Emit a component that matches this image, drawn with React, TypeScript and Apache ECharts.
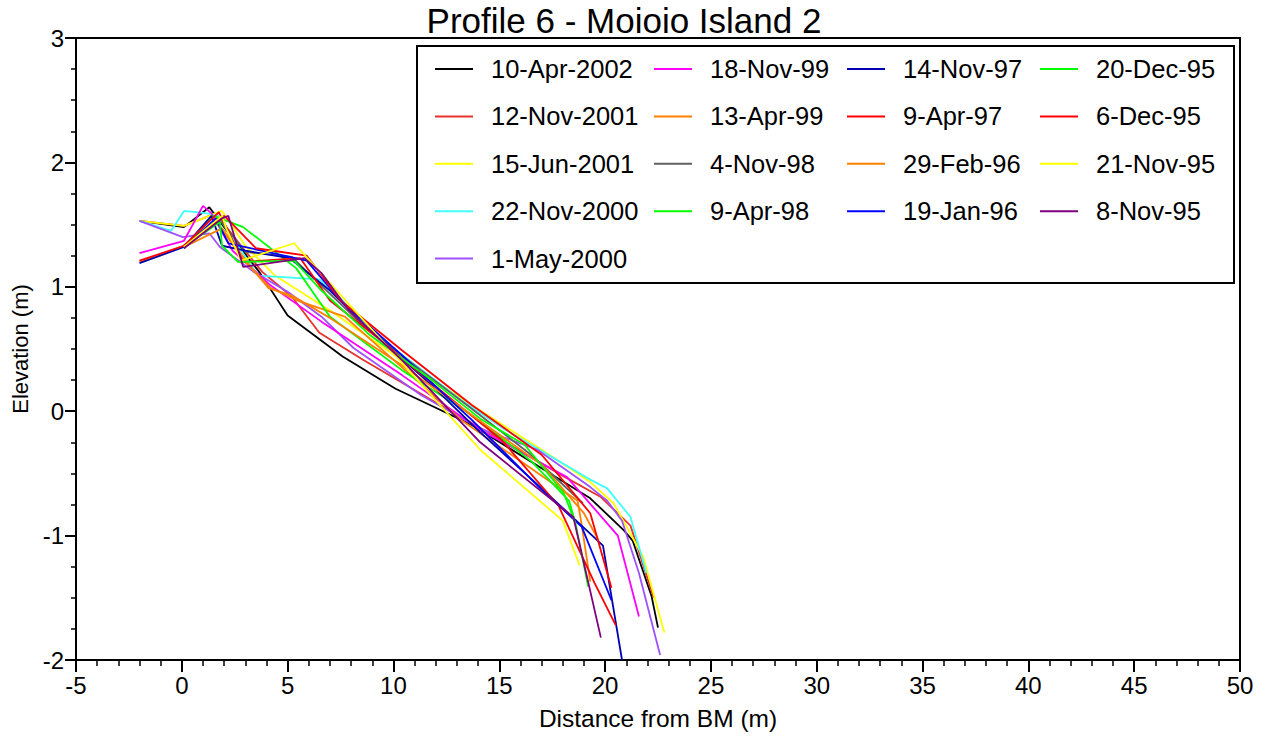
import React, { useEffect, useRef } from "react";
import * as echarts from "echarts";

const TITLE = "Profile 6 - Moioio Island 2";
const X_NAME = "Distance from BM (m)";
const Y_NAME = "Elevation (m)";
const FONT = '"Liberation Sans", Arial, sans-serif';

const seriesNames = [
  "10-Apr-2002", "12-Nov-2001", "15-Jun-2001", "22-Nov-2000", "1-May-2000",
  "18-Nov-99", "13-Apr-99", "4-Nov-98", "9-Apr-98",
  "14-Nov-97", "9-Apr-97", "29-Feb-96", "19-Jan-96",
  "20-Dec-95", "6-Dec-95", "21-Nov-95", "8-Nov-95",
];

const seriesColors = [
  "#000000", "#E8322C", "#FFFF00", "#40FFFF", "#A050FF",
  "#FF00FF", "#FF8000", "#606060", "#00FF00",
  "#0000B0", "#FF0000", "#FF8000", "#0000FF",
  "#00FF00", "#FF0000", "#FFFF00", "#800080",
];

const legendCol1 = ["10-Apr-2002", "12-Nov-2001", "15-Jun-2001", "22-Nov-2000", "1-May-2000"];
const legendCol2 = ["18-Nov-99", "13-Apr-99", "4-Nov-98", "9-Apr-98"];
const legendCol3 = ["14-Nov-97", "9-Apr-97", "29-Feb-96", "19-Jan-96"];
const legendCol4 = ["20-Dec-95", "6-Dec-95", "21-Nov-95", "8-Nov-95"];

type P = [number, number];

const apr2002: P[] = [[-2, 1.53], [0.1, 1.48], [1.3, 1.64], [2.0, 1.48], [3.7, 1.11], [5.0, 0.77], [7.6, 0.44], [10.1, 0.18], [11.6, 0.06], [13.7, -0.11], [17.4, -0.5], [19.3, -0.7], [20.9, -0.96], [21.3, -1.04], [22.2, -1.49], [22.5, -1.74]];
const nov2001: P[] = [[-2, 1.53], [0.1, 1.49], [1.6, 1.59], [2.8, 1.33], [3.8, 1.12], [5.2, 0.92], [6.5, 0.63], [8.6, 0.41], [11.8, 0.09], [15.1, -0.23], [17.9, -0.51], [19.8, -0.69], [21.2, -0.92], [22.3, -1.5]];
const jun2001: P[] = [[-2, 1.53], [0.1, 1.49], [1.9, 1.61], [3.0, 1.33], [4.4, 1.09], [7.0, 0.81], [10.4, 0.41], [13.7, 0.05], [17.0, -0.31], [19.3, -0.57], [20.4, -0.74], [21.8, -1.17], [22.8, -1.78]];
const nov2000: P[] = [[-2, 1.53], [-0.5, 1.45], [0.1, 1.61], [1.2, 1.59], [1.7, 1.57], [3.6, 1.09], [6.5, 1.06], [7.2, 0.96], [8.9, 0.65], [13.2, 0.09], [15.1, -0.13], [19.3, -0.55], [20.1, -0.62], [21.2, -0.85], [21.95, -1.3]];
const may2000: P[] = [[-2, 1.53], [0.05, 1.4], [1.3, 1.43], [1.8, 1.32], [3.4, 1.12], [5.0, 0.96], [6.6, 0.76], [8.1, 0.51], [11.3, 0.13], [14.1, -0.14], [16.8, -0.31], [19.3, -0.61], [20.1, -0.72], [20.8, -0.88], [21.6, -1.3], [22.6, -1.96]];
const nov99: P[] = [[-2, 1.27], [0.1, 1.37], [1.0, 1.65], [1.4, 1.59], [2.4, 1.29], [4.2, 1.01], [6.6, 0.72], [10.4, 0.29], [14.1, -0.15], [18.2, -0.53], [20.6, -1.0], [21.6, -1.65]];
const apr99: P[] = [[-2, 1.2], [0.1, 1.33], [1.6, 1.53], [3.0, 1.2], [4.2, 0.99], [5.6, 0.88], [7.7, 0.76], [13.2, -0.07], [18.7, -0.72], [18.9, -0.92], [19.3, -1.37]];
const nov98: P[] = [[0.1, 1.33], [1.75, 1.55], [3.0, 1.28], [5.2, 1.24], [6.1, 1.09], [8.5, 0.7], [11.3, 0.33], [13.7, 0.02], [16.5, -0.35], [18.95, -0.74]];
const apr98: P[] = [[0.1, 1.31], [1.5, 1.57], [2.9, 1.48], [5.4, 1.15], [7.0, 0.76], [10.4, 0.33], [13.7, -0.03], [16.5, -0.4], [18.3, -0.72], [18.6, -0.9]];
const nov97: P[] = [[-2, 1.19], [0.1, 1.32], [1.4, 1.57], [1.9, 1.33], [3.0, 1.29], [5.1, 1.23], [7.0, 0.97], [8.9, 0.65], [11.8, 0.21], [14.1, -0.17], [17.0, -0.62], [19.9, -1.08], [20.8, -2.0]];
const apr97: P[] = [[-2, 1.21], [0.1, 1.33], [1.75, 1.6], [2.9, 1.2], [5.6, 1.23], [7.0, 0.89], [9.4, 0.57], [12.2, 0.17], [15.1, -0.23], [17.8, -0.76], [19.5, -1.38], [20.5, -1.72]];
const feb96: P[] = [[0.1, 1.32], [1.9, 1.47], [3.3, 1.15], [4.1, 0.99], [5.2, 0.93], [7.0, 0.75], [10.4, 0.37], [13.7, -0.03], [17.0, -0.43], [19.0, -0.82], [19.7, -1.04]];
const jan96: P[] = [[0.1, 1.31], [1.6, 1.55], [2.2, 1.35], [5.9, 1.21], [7.5, 0.89], [10.4, 0.45], [13.7, -0.07], [17.0, -0.63], [18.9, -0.93], [20.3, -1.52]];
const dec95a: P[] = [[0.1, 1.32], [1.8, 1.52], [1.9, 1.33], [2.65, 1.2], [5.3, 1.21], [6.6, 0.97], [8.9, 0.61], [11.8, 0.25], [14.1, -0.06], [16.2, -0.27], [18.05, -0.66], [18.6, -0.9], [19.2, -1.41]];
const dec95b: P[] = [[0.1, 1.32], [2.0, 1.57], [2.3, 1.52], [3.5, 1.31], [5.9, 1.25], [7.5, 0.89], [10.4, 0.49], [13.7, 0.05], [17.0, -0.35], [19.3, -0.82], [20.3, -1.42]];
const nov95a: P[] = [[0.1, 1.32], [1.9, 1.57], [2.1, 1.47], [2.8, 1.21], [5.3, 1.35], [8.0, 0.84], [11.3, 0.22], [14.1, -0.31], [18.0, -0.88], [18.8, -1.24]];
const nov95b: P[] = [[0.1, 1.31], [1.9, 1.55], [2.2, 1.57], [2.9, 1.16], [5.8, 1.23], [6.6, 1.11], [7.9, 0.81], [10.4, 0.41], [14.1, -0.25], [18.5, -0.85], [19.8, -1.82]];

const seriesData: P[][] = [
  apr2002, nov2001, jun2001, nov2000, may2000,
  nov99, apr99, nov98, apr98,
  nov97, apr97, feb96, jan96,
  dec95a, dec95b, nov95a, nov95b,
];

const X_MIN = -5, X_MAX = 50, X_STEP = 5;
const Y_MIN = -2, Y_MAX = 3, Y_STEP = 1;

export default function App() {
  const ref = useRef<HTMLDivElement>(null);
  useEffect(() => {
    if (!ref.current) return;
    const chart = echarts.init(ref.current, null, { renderer: "svg" });
    const legendCols = [legendCol1, legendCol2, legendCol3, legendCol4];
    const legendLefts = [435, 654, 847, 1040];
    chart.setOption({
      animation: false,
      backgroundColor: "#fff",
      grid: {
        left: 76, right: 34, top: 38, bottom: 83,
        show: true, borderColor: "#000", borderWidth: 2, backgroundColor: "transparent",
      },
      xAxis: {
        type: "value", min: X_MIN, max: X_MAX, interval: X_STEP,
        name: X_NAME, nameLocation: "middle", nameGap: 46,
        nameTextStyle: { color: "#000", fontSize: 24.5, fontFamily: FONT },
        axisLine: { onZero: false, lineStyle: { color: "#000", width: 2 } },
        axisTick: { show: true, length: 12, lineStyle: { color: "#000", width: 2 } },
        minorTick: { show: true, splitNumber: 5, length: 6, lineStyle: { color: "#000", width: 1.5 } },
        splitLine: { show: false },
        axisLabel: { color: "#000", fontSize: 24, fontFamily: FONT, margin: 13 },
      },
      yAxis: {
        type: "value", min: Y_MIN, max: Y_MAX, interval: Y_STEP,
        name: Y_NAME, nameLocation: "middle", nameGap: 44, nameRotate: 90,
        nameTextStyle: { color: "#000", fontSize: 22, fontFamily: FONT },
        axisLine: { onZero: false, lineStyle: { color: "#000", width: 2 } },
        axisTick: { show: true, length: 11, lineStyle: { color: "#000", width: 2 } },
        minorTick: { show: true, splitNumber: 4, length: 5, lineStyle: { color: "#000", width: 1.5 } },
        splitLine: { show: false },
        axisLabel: { color: "#000", fontSize: 24, fontFamily: FONT, margin: 12 },
      },
      legend: legendCols.map((d, i) => ({
        data: d,
        orient: "vertical",
        left: legendLefts[i],
        top: 54,
        padding: 0,
        itemGap: 17.4,
        itemWidth: 38,
        itemHeight: 2,
        icon: "rect",
        selectedMode: false,
        textStyle: { color: "#000", fontSize: 25.5, fontFamily: FONT, lineHeight: 30, padding: [0, 0, 0, 13] },
      })),
      graphic: [
        {
          type: "rect",
          shape: { x: 417, y: 46, width: 817, height: 237 },
          style: { fill: "transparent", stroke: "#000", lineWidth: 2 },
          z: 10,
        },
        {
          type: "text",
          x: 624,
          y: 20,
          style: {
            text: TITLE, font: `35px ${FONT}`, fill: "#000",
            textAlign: "center", textVerticalAlign: "middle",
            align: "center", verticalAlign: "middle",
          },
        },
      ],
      series: seriesNames.map((n, i) => ({
        name: n,
        type: "line",
        data: seriesData[i],
        showSymbol: false,
        symbol: "none",
        color: seriesColors[i],
        lineStyle: { width: 1.8, color: seriesColors[i] },
        itemStyle: { color: seriesColors[i] },
        emphasis: { disabled: true },
      })),
    });
    return () => chart.dispose();
  }, []);
  return (
    <div
      ref={ref}
      style={{ position: "fixed", left: 0, top: 0, width: 1274, height: 743, background: "#fff" }}
    />
  );
}
